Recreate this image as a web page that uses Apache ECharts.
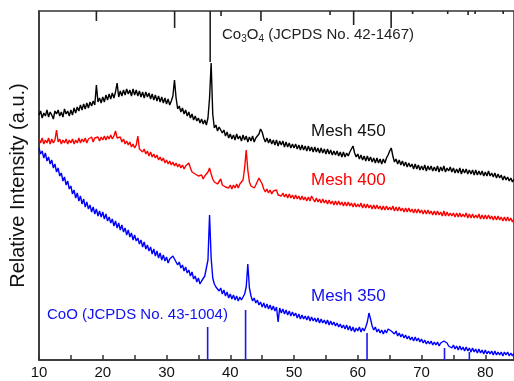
<!DOCTYPE html>
<html>
<head>
<meta charset="utf-8">
<script src="https://cdn.jsdelivr.net/npm/echarts@6/dist/echarts.min.js"></script>
<style>
html, body { margin: 0; padding: 0; background: #fff; }
#graph { width: 514px; height: 381px; }
</style>
</head>
<body>
<div id="graph"></div>
<script>
"use strict"

// scan: 2theta from 10 deg, 0.25 deg per point
const scanStart = 10, scanStep = 0.25;

// intensity (a.u.), one row = 5 deg
const mesh450 = [
    245, 249, 242, 247, 244, 250, 243, 248, 245, 241, 249, 246, 250, 244, 248, 243, 251, 246, 249, 244,
    250, 245, 252, 247, 253, 249, 255, 250, 256, 251, 257, 252, 258, 254, 259, 255, 275, 258, 262, 257,
    263, 258, 265, 260, 266, 261, 267, 262, 268, 277, 263, 269, 264, 270, 265, 271, 266, 270, 264, 271,
    265, 270, 264, 269, 263, 268, 262, 268, 263, 267, 261, 266, 260, 265, 259, 264, 258, 263, 257, 262,
    256, 261, 255, 259, 264, 280, 262, 251, 254, 248, 252, 246, 250, 244, 248, 242, 246, 240, 244, 239,
    242, 237, 241, 236, 240, 235, 242, 262, 297, 246, 232, 235, 229, 233, 235, 227, 230, 224, 228, 222,
    226, 221, 225, 220, 226, 221, 224, 219, 225, 220, 224, 218, 223, 219, 224, 218, 222, 220, 226, 231,
    228, 222, 218, 222, 217, 221, 216, 220, 215, 220, 214, 219, 215, 219, 213, 218, 213, 217, 212, 216,
    212, 216, 211, 215, 210, 215, 210, 214, 209, 214, 209, 213, 208, 213, 208, 212, 207, 212, 207, 211,
    206, 211, 206, 210, 205, 209, 205, 209, 204, 208, 203, 208, 203, 207, 204, 208, 210, 214, 207, 203,
    206, 201, 205, 200, 204, 199, 204, 199, 203, 198, 202, 197, 202, 197, 201, 196, 201, 197, 202, 205,
    209, 212, 204, 198, 201, 196, 200, 195, 199, 194, 198, 193, 197, 193, 196, 191, 196, 191, 195, 190,
    194, 190, 195, 189, 194, 190, 194, 189, 193, 189, 194, 188, 193, 189, 194, 188, 192, 189, 193, 188,
    192, 187, 191, 187, 192, 186, 191, 187, 191, 186, 190, 186, 190, 185, 190, 185, 189, 185, 189, 184,
    188, 184, 189, 184, 187, 183, 187, 182, 186, 182, 185, 180, 184, 180, 183, 179, 182, 178, 181
];
const mesh400 = [
    221, 217, 222, 216, 220, 217, 222, 216, 221, 217, 220, 230, 218, 221, 216, 220, 217, 221, 216, 220,
    217, 221, 216, 220, 217, 222, 217, 221, 218, 222, 217, 221, 219, 223, 218, 222, 220, 223, 219, 223,
    220, 224, 220, 224, 221, 225, 221, 224, 229, 222, 220, 223, 218, 221, 216, 219, 215, 218, 213, 216,
    212, 215, 224, 211, 213, 208, 211, 206, 209, 204, 208, 203, 206, 202, 205, 200, 203, 199, 202, 197,
    200, 196, 199, 195, 198, 194, 197, 193, 196, 192, 195, 191, 194, 193, 197, 192, 188, 190, 186, 187,
    184, 182, 185, 181, 184, 183, 188, 192, 186, 181, 178, 180, 176, 178, 181, 175, 176, 173, 175, 172,
    175, 171, 175, 172, 176, 172, 176, 174, 180, 192, 210, 190, 178, 174, 176, 172, 175, 177, 182, 181,
    176, 171, 168, 171, 167, 170, 166, 169, 168, 170, 165, 167, 164, 167, 163, 166, 162, 166, 162, 165,
    161, 165, 161, 164, 160, 164, 160, 163, 159, 163, 159, 164, 161, 158, 162, 158, 161, 157, 161, 157,
    160, 156, 160, 156, 159, 155, 159, 155, 159, 155, 158, 154, 158, 154, 158, 154, 157, 153, 157, 153,
    156, 153, 157, 152, 156, 152, 156, 152, 155, 151, 155, 151, 155, 151, 154, 150, 154, 150, 154, 150,
    153, 150, 154, 149, 153, 149, 153, 149, 152, 148, 152, 148, 152, 148, 151, 147, 151, 147, 151, 147,
    150, 146, 150, 146, 150, 146, 149, 145, 149, 145, 149, 145, 148, 144, 149, 144, 148, 144, 147, 144,
    147, 143, 147, 143, 147, 143, 146, 143, 147, 142, 146, 142, 146, 142, 145, 142, 146, 141, 145, 141,
    145, 141, 145, 141, 144, 140, 144, 140, 144, 140, 143, 139, 143, 139, 143, 139, 142, 138, 141
];
const mesh350 = [
    212, 206, 209, 202, 207, 199, 203, 196, 200, 192, 196, 188, 192, 184, 187, 179, 183, 175, 179, 171,
    174, 166, 170, 162, 167, 159, 164, 156, 161, 153, 158, 151, 155, 148, 153, 146, 151, 144, 149, 143,
    148, 141, 146, 139, 143, 137, 141, 134, 139, 132, 137, 130, 135, 128, 132, 125, 130, 123, 127, 120,
    125, 119, 122, 116, 120, 113, 118, 111, 115, 109, 113, 106, 111, 104, 109, 102, 107, 100, 105, 99,
    103, 97, 101, 99, 104, 102, 98, 95, 98, 92, 95, 89, 93, 87, 90, 84, 88, 81, 84, 78,
    82, 76, 79, 81, 84, 86, 100, 145, 102, 82, 76, 73, 75, 69, 72, 66, 70, 64, 68, 62,
    66, 61, 65, 60, 64, 59, 63, 60, 63, 66, 73, 96, 72, 64, 59, 62, 57, 60, 55, 58,
    53, 57, 52, 56, 51, 55, 50, 54, 49, 53, 38, 52, 47, 51, 46, 50, 45, 49, 44, 48,
    44, 47, 42, 46, 41, 45, 41, 44, 40, 44, 39, 43, 39, 42, 38, 42, 37, 41, 37, 40,
    36, 40, 35, 39, 35, 38, 34, 37, 33, 36, 32, 35, 31, 35, 30, 34, 29, 33, 28, 32,
    29, 33, 28, 32, 29, 33, 38, 47, 41, 34, 30, 33, 28, 31, 27, 30, 26, 30, 27, 31,
    33, 29, 31, 26, 29, 24, 27, 23, 26, 22, 25, 21, 24, 20, 23, 19, 23, 19, 22, 18,
    21, 17, 20, 16, 19, 16, 19, 15, 18, 15, 18, 14, 17, 15, 19, 20, 17, 14, 16, 12,
    15, 11, 14, 10, 14, 10, 13, 9, 13, 9, 12, 8, 12, 8, 11, 7, 11, 7, 10, 6,
    10, 6, 9, 6, 9, 5, 9, 5, 8, 5, 8, 4, 8, 5, 8, 4, 7, 4, 7
];

// reference patterns: [2theta, stick length]
const co3o4Ref = [[19.0, 10], [31.27, 17], [36.85, 51], [38.55, 5], [44.81, 10], [55.65, 4], [59.35, 14],
    [65.23, 17], [68.6, 3], [74.1, 3], [77.3, 4], [78.4, 3], [82.8, 3]];
const cooRef = [[36.45, 33], [42.4, 50], [61.45, 27], [73.6, 12], [77.5, 8]];

const xTicks = [10, 20, 30, 40, 50, 60, 70, 80];
const yTop = 349;

const font = "'Liberation Sans', Arial, sans-serif";

function toPairs(arr)
{
    return arr.map((v, i) => [scanStart + i * scanStep, v]);
}

function stickSeries(data, color, fromTop)
{
    return {
        type: 'custom',
        silent: true,
        data: data,
        renderItem: (params, api) =>
        {
            const x = api.value(0), len = api.value(1);
            const a = api.coord([x, fromTop ? yTop : 0]);
            const b = api.coord([x, fromTop ? yTop - len : len]);
            return {
                type: 'line',
                shape: { x1: a[0], y1: a[1], x2: b[0], y2: b[1] },
                style: { stroke: color, lineWidth: 1.6 }
            };
        }
    };
}

function lineSeries(arr, color)
{
    return {
        type: 'line',
        data: toPairs(arr),
        showSymbol: false,
        symbol: 'none',
        sampling: null,
        lineStyle: { color: color, width: 1.4 },
        silent: true
    };
}

const myChart = echarts.init(document.getElementById("graph"), null, { renderer: "canvas" });

myChart.setOption({
    animation: false,
    grid: { left: 38, right: 0, top: 11, bottom: 21, show: true, borderColor: '#333', borderWidth: 1.5 },
    xAxis: {
        type: 'value', min: 10, max: 84.5, interval: 10,
        axisLine: { lineStyle: { color: '#333', width: 1.5 } },
        axisTick: { inside: true, length: 5, lineStyle: { color: '#333', width: 1.5 } },
        minorTick: { show: true, splitNumber: 2, length: 5, lineStyle: { color: '#333', width: 1.5 } },
        axisLabel: {
            color: '#111', fontSize: 15, fontFamily: font, margin: 5, showMaxLabel: false,
            formatter: v => xTicks.includes(v) ? String(v) : ''
        },
        splitLine: { show: false }
    },
    yAxis: {
        type: 'value', min: 0, max: yTop,
        name: 'Relative Intensity (a.u.)', nameLocation: 'middle', nameGap: 11,
        nameTextStyle: { fontSize: 20, fontFamily: font, color: '#111' },
        axisLine: { show: true, lineStyle: { color: '#333', width: 1.5 } },
        axisTick: { show: false },
        axisLabel: { show: false },
        splitLine: { show: false }
    },
    graphic: [
        {
            type: 'text', left: 222, top: 27,
            style: {
                text: '{m|Co}{s|3}{m|O}{s|4}{m| (JCPDS No. 42-1467)}',
                rich: {
                    m: { fontSize: 15, fontFamily: font, fill: '#222', lineHeight: 20 },
                    s: { fontSize: 10, fontFamily: font, fill: '#222', verticalAlign: 'top', padding: [10, 0, 0, 0] }
                }
            }
        },
        { type: 'text', left: 311, top: 123, style: { text: 'Mesh 450', fontSize: 17, fontFamily: font, fill: '#111' } },
        { type: 'text', left: 311, top: 172, style: { text: 'Mesh 400', fontSize: 17, fontFamily: font, fill: '#ff0000' } },
        { type: 'text', left: 311, top: 288, style: { text: 'Mesh 350', fontSize: 17, fontFamily: font, fill: '#1010ee' } },
        { type: 'text', left: 47, top: 307, style: { text: 'CoO (JCPDS No. 43-1004)', fontSize: 15, fontFamily: font, fill: '#1010ee' } }
    ],
    series: [
        lineSeries(mesh450, '#000000'),
        lineSeries(mesh400, '#ff0000'),
        lineSeries(mesh350, '#0000ff'),
        stickSeries(co3o4Ref, '#222222', true),
        stickSeries(cooRef, '#1a1aee', false)
    ]
});
</script>
</body>
</html>
